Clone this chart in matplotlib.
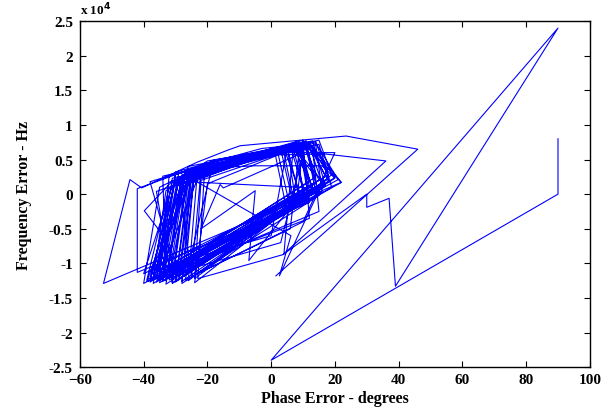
import matplotlib
matplotlib.use("Agg")
import matplotlib.pyplot as plt
from matplotlib.ticker import FuncFormatter

# phase-plane trajectory (degrees, Hz)
phase_deg = [
    90, 90, 0, 90, 39, 37, 30, 30, 3.8, 36, 17, -8, -30, -38,
    -33, -27, 10, 15,
    -36, -29, 5, 9,
    -31, -26, 12, 16,
    -40, -31, 3, 7,
    -34, -28, 9, 13,
    -29, -24, 14, 18,
    -37, -30, 6, 11,
    -32, -27, 11, 14,
    -39, -32, 2, 6,
    -7, -5, -22, -16, -15, 10, 12,
    -35, -29, -2, 13, 17,
    -30, -25, 8, 10,
    -24, -22, 12, 20,
    -33, -28, 7, 12,
    -36, -30, 10, 8,
    -27, -24, 13, 22,
    -32, -26, 4, 9,
    -38, -31, 11, 15,
    -28, -25, 6, 14,
    -34, -29, 9, 12,
    -42, -42, -20, 8, 13,
    -26, -23, 15, 19,
    -31, -27, 1, 5,
    -37, -33, -20, 8, 13,
    -31, -39.8, -33, -26, 6.2, 2.6, 16,
    -29, -25, 12, 17,
    -35, -29, 7, 11,
    -25, -22, 14, 16,
    -33, -28, 10, 14,
    -30, -26, 5, 8,
    -36, -31, 12, 18,
    -28, -24, 9, 12,
    -40, -35, -18, 7, 4,
    -23, -21, 5, 0,
    -34, -30, -3, 12, 18,
    -37, -24, -5, 16, 20,
    -31, -36, 0, 20, 10,
    -27, -19, 11, 3,
    -39, -27, 14, 21,
    -33, -34, 9, 6,
    -25, -29, 8, 17,
    -36, -22, 13, 15,
    -30, -38, -12, 10, 12,
    -38, -26, 15, 19,
    -24, -20, 4, 7,
    -35, -32, 11, 22,
    -52.6, -44.3, -40.6, -23.3, -13.4, -9.7, 23.5, 46, 1.5,
]
freq_hz = [
    8000, 0, -24000, 24000, -13300, -600, -1900, 0, -8700, 4800, 5800, 5600, 2000, -12000,
    -12500, 3200, 7500, 2000,
    -12200, 1800, 6800, -500,
    -12800, 3500, 7000, 1500,
    -11500, 1200, 6500, -1500,
    -12600, 2800, 7300, 500,
    -12300, 3800, 7600, 2200,
    -12900, 2000, 7000, -800,
    -11900, 2600, 7100, 300,
    -12400, 900, 6200, -2000,
    -9600, 500, -5000, 1400, 900, 6000, 1000,
    -11000, 3000, 6300, 7700, 1200,
    -12600, 3300, 7600, -300,
    -12200, 2000, 7300, 2400,
    -13000, 1500, 6900, 1800,
    -12000, 2900, 7000, -1000,
    -11500, 3600, 6900, 1700,
    -12400, 2200, 6700, 200,
    -12700, 1700, 7500, -200,
    -12900, 2900, 7200, 2500,
    -11700, 2400, 6600, -1200,
    -11300, 800, 4500, 7000, 900,
    -12500, 3900, 7200, 1000,
    -12100, 1300, 6400, -2500,
    -12300, 500, 4800, 7000, 900,
    1900, -2400, -6500, 2500, -6000, -11800, 1500,
    -11800, 2700, 7400, 2600,
    -12800, 2100, 6500, -600,
    -12000, 3400, 7100, 400,
    -12300, 2600, 7800, 1600,
    -12700, 1900, 6900, -1800,
    -11300, 2300, 6800, 1900,
    -12600, 3100, 7400, -400,
    -12900, 1000, 4900, 7000, -8700,
    -12200, 2500, 6600, -6000,
    -10500, 3200, 6600, 7300, 2800,
    -11600, 3700, 4100, 4100, 2300,
    -12900, 400, 6000, 6000, -4000,
    -12400, 3000, 7700, -7000,
    -12600, 2900, 7400, 2100,
    -11400, 2600, 7100, -5000,
    -11900, 2100, 6400, 1300,
    -12700, 3500, 6800, -2500,
    -11200, 1800, 5400, 7500, -3500,
    -12300, 4000, 7800, 2800,
    -12800, 1500, 6000, -600,
    -12100, 2700, 6900, 1700,
    -12900, 2100, 900, 4600, 6400, 7000, 8400, 6500, -11800,
]

x_ticks = [-60, -40, -20, 0, 20, 40, 60, 80, 100]
y_ticks = [-25000, -20000, -15000, -10000, -5000, 0, 5000, 10000, 15000, 20000, 25000]

plt.rcParams["font.family"] = ["Liberation Serif", "DejaVu Serif"]
plt.rcParams["font.weight"] = "bold"

fig = plt.figure(figsize=(6.1, 4.1), dpi=100)
ax = fig.add_axes([0.131, 0.102, 0.836, 0.844])

ax.plot(phase_deg, freq_hz, color="#0000ff", linewidth=0.8)

ax.set_xlim(-60, 100)
ax.set_ylim(-25000, 25000)
ax.set_xticks(x_ticks)
ax.set_yticks(y_ticks)
ax.yaxis.set_major_formatter(FuncFormatter(lambda v, p: "%g" % (v / 1e4)))
ax.tick_params(direction="in", top=True, right=True, length=4, width=0.8,
               labelsize=11)
ax.tick_params(axis="x", pad=4)
ax.tick_params(axis="y", pad=5)
for lbl in ax.get_xticklabels() + ax.get_yticklabels():
    lbl.set_fontweight("bold")
for sp in ax.spines.values():
    sp.set_linewidth(1.0)

ax.text(0.0, 1.01, r"x 10$^{4}$", transform=ax.transAxes, fontsize=9.5,
        fontweight="bold", ha="left", va="bottom")

ax.set_xlabel("Phase Error - degrees", fontsize=11.5, fontweight="bold", labelpad=3)
ax.set_ylabel("Frequency Error - Hz", fontsize=11.5, fontweight="bold", labelpad=12)

fig.savefig("out.png", dpi=100)
